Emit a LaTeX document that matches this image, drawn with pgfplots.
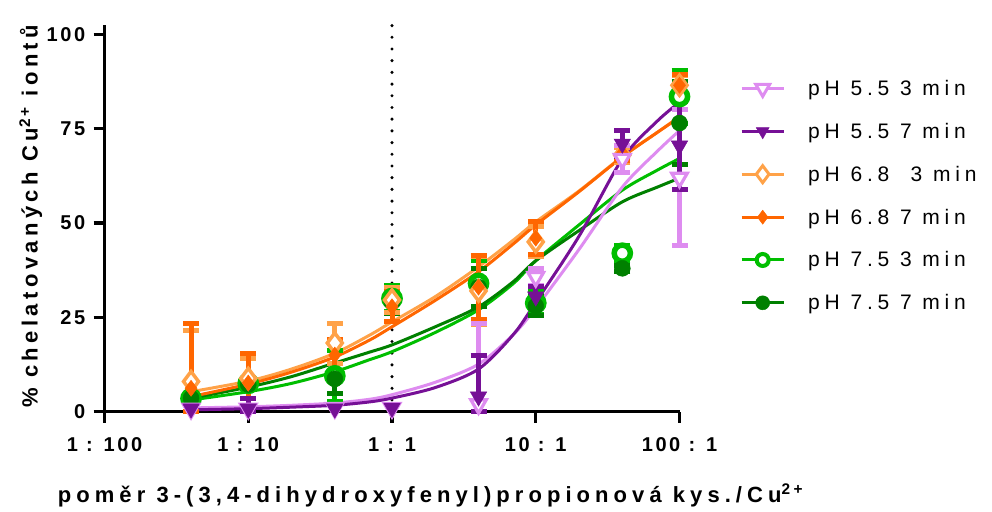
\documentclass[border=0pt]{standalone}
\usepackage{fontspec}
\setmainfont{Liberation Sans}
\newfontfamily\legfont[LetterSpace=23]{Liberation Sans}
\newfontfamily\tickfont[LetterSpace=13]{Liberation Sans}
\newfontfamily\labfont[LetterSpace=20]{Liberation Sans}
\newfontfamily\xlabfont[LetterSpace=23]{Liberation Sans}
\usepackage{pgfplots}
\usepackage{pgfplotstable}
\pgfplotsset{compat=1.18}

\definecolor{vl}{RGB}{222,140,240}
\definecolor{vd}{RGB}{118,16,150}
\definecolor{ol}{RGB}{255,162,72}
\definecolor{od}{RGB}{255,102,0}
\definecolor{gl}{RGB}{0,190,0}
\definecolor{gd}{RGB}{0,128,0}

% ---- measured points (mean, +err, -err)
\pgfplotstableread{
x y ep em
0.04 0.8 0 0
0.1 0.8 0 0
0.4 1.0 0 0
1 1.0 0 0
4 2.0 21.5 2.0
10 35.7 2.3 2.3
40 67.0 3.5 3.5
100 62.0 18.0 18.0
}\Vthree
\pgfplotstableread{
x y ep em
4 2.0 21.5 2.0
10 35.7 2.3 2.3
40 67.0 3.5 3.5
100 62.0 18.0 18.0
}\VthreeErr
\pgfplotstableread{
x y ep em
0.04 0.8 0 0
0.1 0.8 2.6 0.8
0.4 0.8 0 0
1 1.0 0 0
4 4.0 11.0 4.0
10 30.5 2.8 2.8
40 71.0 3.4 3.4
100 70.5 11.7 11.7
}\Vseven
\pgfplotstableread{
x y ep em
0.1 0.8 2.6 0.8
4 4.0 11.0 4.0
10 30.5 2.8 2.8
40 71.0 3.4 3.4
100 70.5 11.7 11.7
}\VsevenErr
\pgfplotstableread{
x y ep em
0.04 8.0 13.5 8.0
0.1 8.8 5.4 5.4
0.4 18.2 5.3 5.3
1 29.6 3.2 3.2
4 32.0 9.0 9.0
10 45.0 4.0 4.0
40 68.0 2.0 2.0
100 86.5 2.5 2.5
}\Othree
\pgfplotstableread{
x y ep em
0.04 6.2 17.2 6.2
0.1 7.6 7.9 7.6
0.4 15.0 4.0 4.0
1 27.8 4.0 4.0
4 33.0 8.5 8.5
10 46.0 4.3 4.3
40 68.5 2.0 2.0
100 86.5 2.8 2.8
}\Oseven
\pgfplotstableread{
x y ep em
0.04 3.5 1.0 1.0
0.1 7.5 1.0 1.0
0.4 9.5 6.8 6.8
1 30.0 3.5 3.5
4 34.0 6.0 6.0
10 28.8 3.0 3.0
40 42.0 2.0 2.0
100 83.5 7.0 7.0
}\Gthree
\pgfplotstableread{
x y ep em
0.04 3.6 1.0 1.0
0.1 7.2 1.0 1.0
0.4 8.7 4.0 4.0
1 29.0 3.0 3.0
4 33.0 5.0 5.0
10 28.0 2.5 2.5
40 38.0 0.8 0.8
100 76.5 11.0 11.0
}\Gseven

% ---- fitted curves
\pgfplotstableread{
x y
0.04 1.0
0.1 1.3
0.2 1.7
0.4 2.3
0.7 3.3
1 4.5
2 7.8
4 12.6
7 20.5
10 27.5
20 43.0
40 59.5
70 69.0
100 74.5
}\cVthree
\pgfplotstableread{
x y
0.04 0.5
0.1 0.8
0.2 1.2
0.4 1.7
0.7 2.6
1 3.6
2 6.4
4 11.3
7 20.5
10 29.0
20 46.5
40 67.0
70 77.0
100 82.0
}\cVseven
\pgfplotstableread{
x y
0.04 5.3
0.1 8.1
0.2 11.3
0.4 15.5
0.7 20.3
1 23.8
2 30.5
4 38.4
7 45.5
10 50.3
20 58.5
40 67.6
70 74.0
100 78.2
}\cOthree
\pgfplotstableread{
x y
0.04 4.0
0.1 7.3
0.2 10.5
0.4 14.5
0.7 19.0
1 22.5
2 29.5
4 37.1
7 44.5
10 49.5
20 58.3
40 67.5
70 74.0
100 78.0
}\cOseven
\pgfplotstableread{
x y
0.04 3.1
0.1 5.3
0.2 7.5
0.4 10.6
0.7 13.8
1 15.9
2 21.0
4 27.0
7 34.0
10 40.0
20 49.5
40 58.7
70 64.0
100 67.1
}\cGthree
\pgfplotstableread{
x y
0.04 3.6
0.1 6.5
0.2 9.3
0.4 12.9
0.7 15.8
1 17.7
2 22.5
4 27.8
7 34.5
10 40.0
20 48.0
40 55.6
70 59.5
100 61.9
}\cGseven

\pgfplotsset{
  errstyle/.style={forget plot, only marks, mark=none,
    error bars/.cd, y dir=both, y explicit,
    error bar style={line width=5bp, #1},
    error mark options={rotate=90, line width=5bp, mark size=8bp, #1}},
}

\begin{document}
\begin{tikzpicture}
\path[use as bounding box] (0,0) rectangle (992bp,512bp);
\begin{axis}[
  at={(104.5bp,100.3bp)}, anchor=south west,
  scale only axis, width=575bp, height=386.8bp,
  xmode=log, log basis x=10,
  xmin=0.01, xmax=100, ymin=0, ymax=102.5,
  clip=false,
  axis lines=left,
  axis line style={-, line width=3.5bp, black},
  xtick={0.01,0.1,1,10,100},
  xticklabels={1 : 100, 1 : 10, 1 : 1, 10 : 1, 100 : 1},
  ytick={0,25,50,75,100},
  yticklabels={0,25,50,75,100},
  xminorticks=false, yminorticks=false,
  tick align=outside,
  major tick length=11bp,
  tick style={line width=3.2bp, black},
  ticklabel style={font=\tickfont\bfseries\fontsize{20bp}{24bp}\selectfont, inner sep=0pt},
  xticklabel style={anchor=base, yshift=-29bp},
  yticklabel style={anchor=east, xshift=-8bp},
  xlabel={poměr 3-(3,4-dihydroxyfenyl)propionová kys./Cu\textsuperscript{2+}},
  ylabel={\% chelatovaných Cu\textsuperscript{2+} iontů},
  label style={inner sep=0pt},
  xlabel style={font=\xlabfont\bfseries\fontsize{22bp}{26bp}\selectfont, at={(axis description cs:0.567,-0.2335)}, anchor=base},
  ylabel style={font=\labfont\bfseries\fontsize{22bp}{26bp}\selectfont, at={(axis description cs:-0.128,0.505)}, anchor=center},
  legend style={draw=none, fill=none, at={(axis description cs:1,1)}, anchor=north west,
    xshift=60.5bp, yshift=-55bp, inner sep=0pt,
    font=\legfont\fontsize{21bp}{25bp}\selectfont,
    nodes={inner sep=0pt}, row sep=26.1bp, column sep=23bp},
  legend cell align=left,
  legend image code/.code={\draw[mark repeat=2,mark phase=2,#1] plot coordinates {(0bp,0bp) (21bp,0bp) (42bp,0bp)};},
]
% dotted reference line at 1:1
\addplot[forget plot, black, line width=3.4bp, line cap=round, dash pattern=on 0bp off 11.7bp] coordinates {(1,0) (1,102.5)};

% fitted curves
\addplot[forget plot, gl, line width=3bp, smooth] table[x=x,y=y]{\cGthree};
\addplot[forget plot, gd, line width=3bp, smooth] table[x=x,y=y]{\cGseven};
\addplot[forget plot, ol, line width=3bp, smooth] table[x=x,y=y]{\cOthree};
\addplot[forget plot, od, line width=3bp, smooth] table[x=x,y=y]{\cOseven};
\addplot[forget plot, vl, line width=3bp, smooth] table[x=x,y=y]{\cVthree};
\addplot[forget plot, vd, line width=3bp, smooth] table[x=x,y=y]{\cVseven};

% pH 7.5 3 min
\addplot[errstyle=gl] table[x=x,y=y,y error plus=ep,y error minus=em]{\Gthree};
\addplot[forget plot, only marks, mark=*, mark size=8.1bp, mark options={fill=white, draw=gl, line width=5.5bp}] table[x=x,y=y]{\Gthree};
% pH 7.5 7 min
\addplot[errstyle=gd] table[x=x,y=y,y error plus=ep,y error minus=em]{\Gseven};
\addplot[forget plot, only marks, mark=*, mark size=8bp, mark options={fill=gd, draw=gd, line width=0.5bp}] table[x=x,y=y]{\Gseven};
% pH 6.8 3 min
\addplot[errstyle=ol] table[x=x,y=y,y error plus=ep,y error minus=em]{\Othree};
\addplot[forget plot, only marks, mark=diamond*, mark size=10bp, mark options={fill=white, draw=ol, line width=3.5bp}] table[x=x,y=y]{\Othree};
% pH 6.8 7 min
\addplot[errstyle=od] table[x=x,y=y,y error plus=ep,y error minus=em]{\Oseven};
\addplot[forget plot, only marks, mark=diamond*, mark size=8bp, mark options={fill=od, draw=od, line width=0.5bp}] table[x=x,y=y]{\Oseven};
% pH 5.5 3 min
\addplot[errstyle=vl] table[x=x,y=y,y error plus=ep,y error minus=em]{\VthreeErr};
\addplot[forget plot, only marks, mark=triangle*, mark size=9bp, mark options={rotate=180, fill=white, draw=vl, line width=3.2bp}] table[x=x,y=y]{\Vthree};
% pH 5.5 7 min
\addplot[errstyle=vd] table[x=x,y=y,y error plus=ep,y error minus=em]{\VsevenErr};
\addplot[forget plot, only marks, mark=triangle*, mark size=9.5bp, mark options={rotate=180, fill=vd, draw=vd, line width=0.5bp}] table[x=x,y=y]{\Vseven};

% legend
\addlegendimage{vl, line width=3bp, mark=triangle*, mark size=8bp, mark options={rotate=180, fill=white, draw=vl, line width=3bp}}
\addlegendentry{pH 5.5 3 min}
\addlegendimage{vd, line width=3bp, mark=triangle*, mark size=7.5bp, mark options={rotate=180, fill=vd, draw=vd, line width=0.5bp}}
\addlegendentry{pH 5.5 7 min}
\addlegendimage{ol, line width=3bp, mark=diamond*, mark size=8.5bp, mark options={fill=white, draw=ol, line width=3bp}}
\addlegendentry{pH 6.8\ \ 3 min}
\addlegendimage{od, line width=3bp, mark=diamond*, mark size=7bp, mark options={fill=od, draw=od, line width=0.5bp}}
\addlegendentry{pH 6.8 7 min}
\addlegendimage{gl, line width=3bp, mark=*, mark size=6bp, mark options={fill=white, draw=gl, line width=4bp}}
\addlegendentry{pH 7.5 3 min}
\addlegendimage{gd, line width=3bp, mark=*, mark size=7bp, mark options={fill=gd, draw=gd, line width=0.5bp}}
\addlegendentry{pH 7.5 7 min}
\end{axis}
\end{tikzpicture}
\end{document}
